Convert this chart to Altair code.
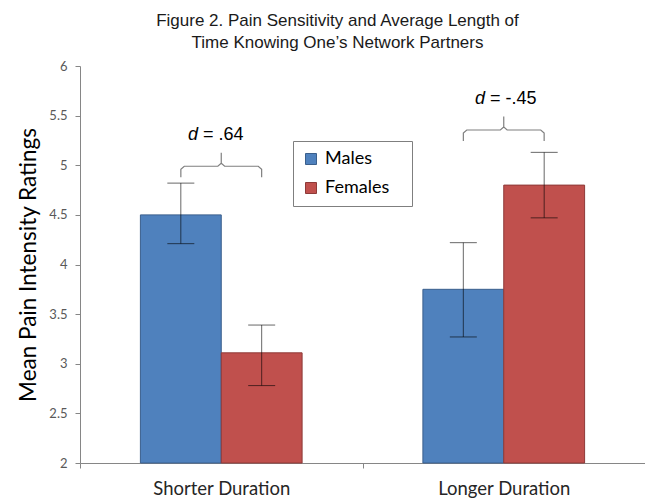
import altair as alt
import pandas as pd

# ---- data ----
categories = ["Shorter Duration", "Longer Duration"]
groups = ["Males", "Females"]
male_means = [4.50, 3.75]
female_means = [3.11, 4.80]
male_lo = [4.21, 3.27]
male_hi = [4.82, 4.22]
female_lo = [2.78, 4.47]
female_hi = [3.39, 5.13]
y_ticks = [2, 2.5, 3, 3.5, 4, 4.5, 5, 5.5, 6]

# effect-size annotations
effect_text = ["= .64", "= -.45"]
brace_level = [4.99, 5.355]     # height of the brace's horizontal stroke
label_level = [5.305, 5.667]    # height of the "d = ..." text
label_anchor = [0.418, 1.434]   # x (in category units) where "d" ends

colors = ["#4F81BD", "#C0504D"]
edge_colors = ["#3A5F8C", "#8E3A38"]

rows = []
for i, c in enumerate(categories):
    rows.append(dict(category=c, group="Males", mean=male_means[i], lo=male_lo[i], hi=male_hi[i]))
    rows.append(dict(category=c, group="Females", mean=female_means[i], lo=female_lo[i], hi=female_hi[i]))
df = pd.DataFrame(rows)

# brace outline (relative shape, category units / value units)
h, d, p, rx, ry = 0.143, 0.11, 0.135, 0.012, 0.03
shape = [(-h, -d), (-h, -ry), (-h + rx, 0), (-rx, 0), (0, ry), (0, p),
         (0, ry), (rx, 0), (h - rx, 0), (h, -ry), (h, -d)]
brows = []
for i, c in enumerate(categories):
    for k, (sx, sy) in enumerate(shape):
        brows.append(dict(category=c, i=k, bx=i + 0.5 + sx, by=brace_level[i] + sy))
brace_df = pd.DataFrame(brows)
label_df = pd.DataFrame(dict(category=categories, ax=label_anchor, ly=label_level, txt=effect_text))

AX = "#868686"
y_axis = alt.Axis(values=y_ticks, format="~g", grid=False, title="Mean Pain Intensity Ratings",
                  titleFont="Lato", titleFontSize=22.5, titleFontWeight="normal", titleColor="#000000",
                  titlePadding=8, labelFont="Lato", labelFontSize=13, labelColor="#595959",
                  labelPadding=8, tickSize=5, domainColor=AX, tickColor=AX)
y_scale = alt.Scale(domain=[2, 6], nice=False, zero=False, clamp=True)

x_enc = alt.X("category:N", sort=categories, scale=alt.Scale(paddingInner=0, paddingOuter=0),
              axis=alt.Axis(title=None, labelFont="Lato", labelFontSize=18.5, labelColor="#262626",
                            labelPadding=11, labelAngle=0, domainColor=AX, tickColor=AX,
                            tickSize=5, tickBand="extent"))
xo_enc = alt.XOffset("group:N", sort=groups, scale=alt.Scale(paddingInner=0, paddingOuter=0.747))

base = alt.Chart(df)
bars = base.mark_bar(strokeWidth=1).encode(
    x=x_enc, xOffset=xo_enc,
    y=alt.Y("mean:Q", scale=y_scale, axis=y_axis),
    y2=alt.Y2(datum=2),
    color=alt.Color("group:N", sort=groups, scale=alt.Scale(domain=groups, range=colors),
                    legend=alt.Legend(title=None, orient="none", legendX=213, legendY=75,
                                      direction="vertical", strokeColor="#7F7F7F", fillColor="white",
                                      padding=9, symbolType="square", symbolSize=121,
                                      symbolStrokeColor="#555555", symbolStrokeWidth=1,
                                      labelFont="Lato", labelFontSize=18, labelColor="#000000",
                                      labelOffset=5, rowPadding=11,
                                      labelExpr="datum.label + '\u2800'")),
    stroke=alt.Stroke("group:N", sort=groups, scale=alt.Scale(domain=groups, range=edge_colors), legend=None),
)
rules = base.mark_rule(color="black", opacity=0.6, strokeWidth=1).encode(
    x=x_enc, xOffset=xo_enc, y=alt.Y("lo:Q", scale=y_scale, axis=y_axis), y2="hi:Q")
cap_lo = base.mark_tick(color="black", opacity=0.6, size=27, thickness=1).encode(
    x=x_enc, xOffset=xo_enc, y=alt.Y("lo:Q", scale=y_scale, axis=y_axis))
cap_hi = base.mark_tick(color="black", opacity=0.6, size=27, thickness=1).encode(
    x=x_enc, xOffset=xo_enc, y=alt.Y("hi:Q", scale=y_scale, axis=y_axis))
inner = alt.layer(bars, rules, cap_lo, cap_hi)

qx = alt.Scale(domain=[0, 2], nice=False, zero=False)
braces = alt.Chart(brace_df).mark_line(color="#7F7F7F", strokeWidth=1.2).encode(
    x=alt.X("bx:Q", scale=qx, axis=None),
    y=alt.Y("by:Q", scale=y_scale, axis=y_axis),
    detail="category:N", order="i:Q")
d_txt = alt.Chart(label_df).mark_text(font="Liberation Sans", fontSize=18, fontStyle="italic",
                                      align="right", baseline="middle", color="black").encode(
    x=alt.X("ax:Q", scale=qx, axis=None), y=alt.Y("ly:Q", scale=y_scale, axis=y_axis), text=alt.value("d"))
rest_txt = alt.Chart(label_df).mark_text(font="Liberation Sans", fontSize=18, align="left",
                                         baseline="middle", dx=5, color="black").encode(
    x=alt.X("ax:Q", scale=qx, axis=None), y=alt.Y("ly:Q", scale=y_scale, axis=y_axis), text="txt:N")
annot = alt.layer(braces, d_txt, rest_txt)

chart = alt.layer(inner, annot).resolve_scale(x="independent").properties(
    width=565, height=397,
    title=alt.TitleParams(text=["Figure 2. Pain Sensitivity and Average Length of",
                                "Time Knowing One\u2019s Network Partners"],
                          font="Liberation Sans", fontSize=17, fontWeight="normal", color="#1A1A1A",
                          lineHeight=22, anchor="middle", offset=8, dx=-25),
    autosize=alt.AutoSizeParams(type="none"),
    padding={"left": 72, "top": 58, "right": 0, "bottom": 40},
).configure_view(stroke=None)

chart.save("out.html", embed_options={"renderer": "svg", "actions": False})
